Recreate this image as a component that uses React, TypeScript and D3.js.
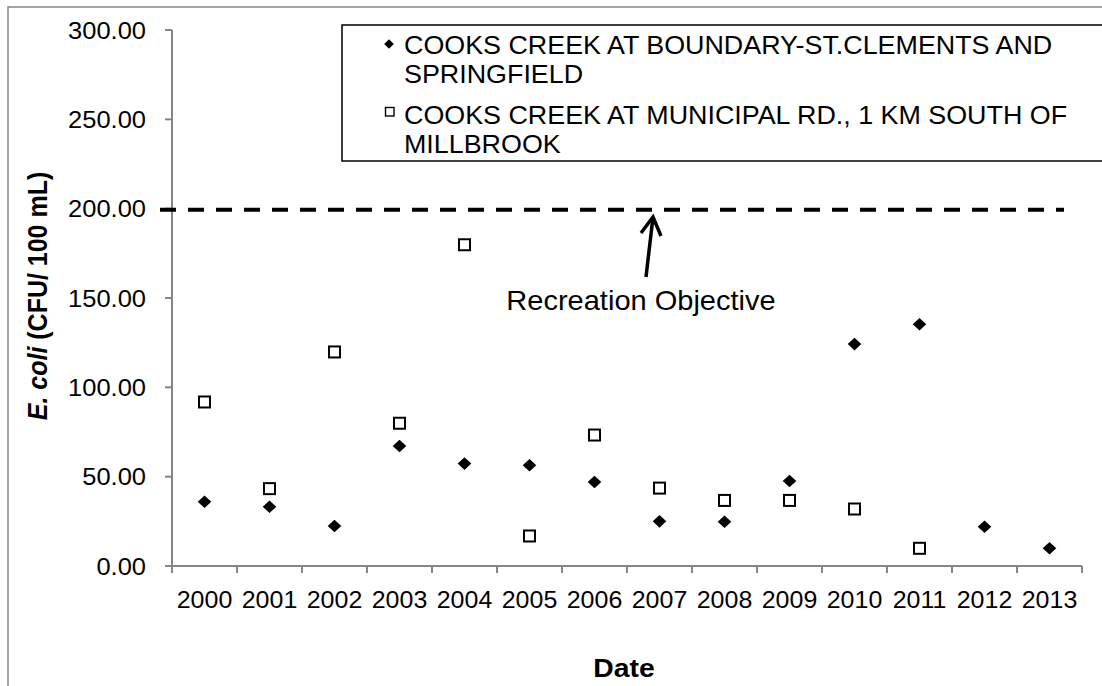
import React from "react";
import * as d3 from "d3";

const years = ["2000","2001","2002","2003","2004","2005","2006","2007","2008","2009","2010","2011","2012","2013"];
const boundaryValues: (number | null)[] = [36.0, 33.2, 22.4, 67.2, 57.3, 56.4, 47.0, 25.0, 24.8, 47.6, 124.2, 135.3, 22.0, 9.9];
const municipalValues: (number | null)[] = [91.8, 43.3, 119.8, 79.9, 179.8, 16.8, 73.3, 43.6, 36.7, 36.7, 31.9, 9.9, null, null];
const yTicks = [0, 50, 100, 150, 200, 250, 300];
const objectiveValue = 200;
const seriesNames = [
  ["COOKS CREEK AT BOUNDARY-ST.CLEMENTS AND", "SPRINGFIELD"],
  ["COOKS CREEK AT MUNICIPAL RD., 1 KM SOUTH OF", "MILLBROOK"],
];

const W = 1102, H = 686;
const FONT = "'Liberation Sans', Arial, Helvetica, sans-serif";
const AXIS = "#868686";

function SText(props: { x: number; y: number; size: number; sx: number; anchor?: string; bold?: boolean; children: React.ReactNode }) {
  const { x, y, size, anchor = "start", bold = false, children, sx } = props;
  return (
    <g transform={`translate(${x},${y}) scale(${sx},1)`}>
      <text x={0} y={0} textAnchor={anchor as any} fontFamily={FONT} fontSize={size} fontWeight={bold ? "bold" : "normal"} fill="#000">
        {children}
      </text>
    </g>
  );
}

function diamond(cx: number, cy: number, rx: number, ry: number) {
  return `M${cx},${cy - ry}L${cx + rx},${cy}L${cx},${cy + ry}L${cx - rx},${cy}Z`;
}

export default function App() {
  const x = d3.scaleBand<string>().domain(years).range([172, 1082]).padding(0);
  const y = d3.scaleLinear().domain([0, 300]).range([566, 30]);
  const bw = x.bandwidth();
  const cx = (yr: string) => (x(yr) as number) + bw / 2;
  const x0 = x.range()[0], x1 = x.range()[1];
  const yBase = y(0);
  const yObj = y(objectiveValue) + 1;

  return (
    <svg width={W} height={H} style={{ position: "absolute", left: 0, top: 0, background: "#fff" }}>
      <rect x={0} y={0} width={W} height={H} fill="#fff" />
      {/* outer chart frame */}
      <path d={`M8,${H + 5}L8,7L${W + 5},7`} fill="none" stroke={AXIS} strokeWidth={1.5} />

      {/* legend box */}
      <rect x={342} y={25} width={800} height={136} fill="#fff" stroke="#000" strokeWidth={1.5} />
      <path d={diamond(389, 44, 4.8, 4.8)} fill="#000" />
      <SText x={404} y={54} size={25} sx={1.075}>{seriesNames[0][0]}</SText>
      <SText x={404} y={83} size={25} sx={1.075}>{seriesNames[0][1]}</SText>
      <rect x={385.5} y={107.5} width={8.5} height={8.5} fill="#fff" stroke="#000" strokeWidth={1.4} />
      <SText x={404} y={124} size={25} sx={1.075}>{seriesNames[1][0]}</SText>
      <SText x={404} y={153} size={25} sx={1.075}>{seriesNames[1][1]}</SText>

      {/* y axis */}
      <line x1={x0} x2={x0} y1={y(300)} y2={yBase} stroke={AXIS} strokeWidth={2} />
      {yTicks.map((t) => (
        <g key={t}>
          <line x1={x0 - 7} x2={x0} y1={y(t)} y2={y(t)} stroke={AXIS} strokeWidth={2} />
          <SText x={146} y={y(t) + 8.5} size={24.5} sx={1.04} anchor="end">{d3.format(".2f")(t)}</SText>
        </g>
      ))}
      {/* x axis */}
      <line x1={x0} x2={x1} y1={yBase} y2={yBase} stroke={AXIS} strokeWidth={2} />
      {[...years.map((yr) => x(yr) as number), x1].map((px, i) => (
        <line key={i} x1={px} x2={px} y1={yBase} y2={yBase + 7} stroke={AXIS} strokeWidth={2} />
      ))}
      {years.map((yr) => (
        <SText key={yr} x={cx(yr)} y={608} size={24.5} sx={1.02} anchor="middle">{yr}</SText>
      ))}

      {/* objective line */}
      <line x1={160} x2={1064} y1={yObj} y2={yObj} stroke="#000" strokeWidth={4} strokeDasharray="16,12" />
      {/* arrow */}
      <path d="M646,277L653,217" stroke="#000" strokeWidth={3.5} fill="none" />
      <path d="M641,233L653,217L661,236" stroke="#000" strokeWidth={3.5} fill="none" strokeLinejoin="miter" />
      <SText x={641} y={310} size={27} sx={1.075} anchor="middle">Recreation Objective</SText>

      {/* series */}
      {municipalValues.map((v, i) =>
        v == null ? null : (
          <rect key={"m" + i} x={cx(years[i]) - 5.5} y={y(v) - 5.5} width={11} height={11} fill="#fff" stroke="#000" strokeWidth={2} />
        )
      )}
      {boundaryValues.map((v, i) =>
        v == null ? null : <path key={"b" + i} d={diamond(cx(years[i]), y(v), 6.8, 6.3)} fill="#000" />
      )}

      {/* axis titles */}
      <g transform={`translate(47,296) scale(1.08,1) rotate(-90)`}>
        <text x={0} y={0} textAnchor="middle" fontFamily={FONT} fontSize={25} fontWeight="bold" fill="#000">
          <tspan fontStyle="italic">E. coli</tspan>
          <tspan> (CFU/ 100 mL)</tspan>
        </text>
      </g>
      <SText x={624} y={677} size={26.5} sx={1.07} anchor="middle" bold>Date</SText>
    </svg>
  );
}
